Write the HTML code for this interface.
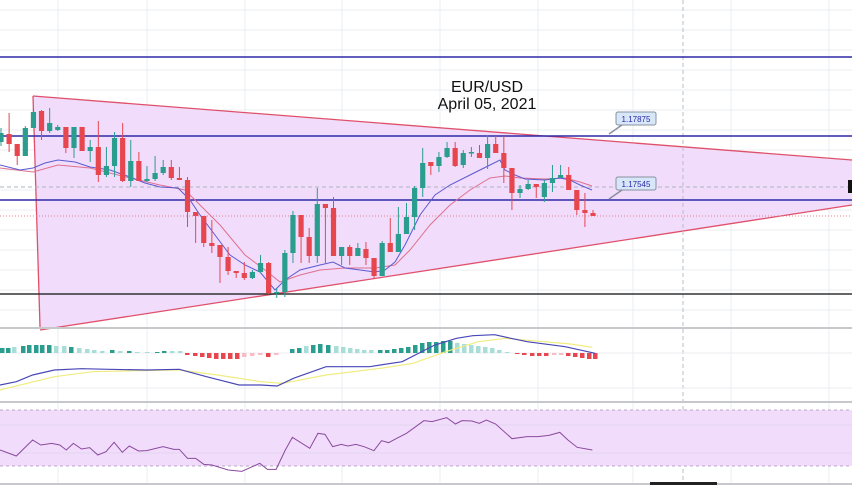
<!DOCTYPE html>
<html><head><meta charset="utf-8">
<style>
html,body{margin:0;padding:0;background:#fff;width:852px;height:485px;overflow:hidden}
svg{display:block}
text{font-family:"Liberation Sans",sans-serif}
</style></head><body>
<svg id="s" width="852" height="485" viewBox="0 0 852 485" xmlns="http://www.w3.org/2000/svg">
<g id="grid" stroke="#e8ecf2" stroke-width="1"></g>
<!-- triangle -->
<polygon points="33,96 852,160 852,205 40,330" fill="#f1dcfb" stroke="none"/>
<line x1="33" y1="96" x2="852" y2="160" stroke="#e0506a" stroke-width="1.3"/>
<line x1="40" y1="330" x2="852" y2="205" stroke="#e0506a" stroke-width="1.3"/>
<line x1="33" y1="96" x2="40" y2="327" stroke="#e0506a" stroke-width="1.3"/>
<line x1="683" y1="0" x2="683" y2="485" stroke="#b8bcc4" stroke-dasharray="4,3"/>
<line x1="0" y1="187" x2="852" y2="187" stroke="#b0b4bc" stroke-dasharray="4,3"/>
<line x1="0" y1="216" x2="852" y2="216" stroke="#e8808a" stroke-dasharray="1,2"/>
<line x1="0" y1="57" x2="852" y2="57" stroke="#2f2aa6" stroke-width="1.6"/>
<line x1="0" y1="136" x2="852" y2="136" stroke="#2f2aa6" stroke-width="1.6"/>
<line x1="0" y1="200" x2="852" y2="200" stroke="#2f2aa6" stroke-width="1.6"/>
<line x1="0" y1="294" x2="852" y2="294" stroke="#333" stroke-width="1.6"/>
<g id="ma"></g>
<g id="candles"></g>
<!-- labels -->
<line x1="609" y1="134" x2="622" y2="125" stroke="#8a90a0" stroke-width="1.5"/>
<rect x="616" y="112" width="40" height="13" rx="2" fill="#d7e6f8" stroke="#8a90a0"/>
<text x="636" y="122" font-size="8" fill="#2f2aa6" text-anchor="middle">1.17875</text>
<line x1="609" y1="199" x2="622" y2="190" stroke="#8a90a0" stroke-width="1.5"/>
<rect x="616" y="177" width="40" height="13" rx="2" fill="#d7e6f8" stroke="#8a90a0"/>
<text x="636" y="187" font-size="8" fill="#2f2aa6" text-anchor="middle">1.17545</text>
<rect x="848" y="180" width="6" height="13" fill="#111"/>
<text x="487" y="92" font-size="16" fill="#111" text-anchor="middle">EUR/USD</text>
<text x="487" y="109" font-size="16" fill="#111" text-anchor="middle">April 05, 2021</text>
<!-- panel separators -->
<rect x="0" y="327" width="852" height="2" fill="#c6c8cc"/>
<rect x="0" y="401" width="852" height="2" fill="#c6c8cc"/>
<rect x="0" y="483" width="852" height="2" fill="#c6c8cc"/>
<rect x="650" y="482" width="67" height="3" fill="#222"/>
<!-- RSI band -->
<rect x="0" y="410" width="852" height="56" fill="#f1dcfb"/>
<line x1="0" y1="410" x2="852" y2="410" stroke="#b8a8c4" stroke-dasharray="3,3"/>
<line x1="0" y1="466" x2="852" y2="466" stroke="#b8a8c4" stroke-dasharray="3,3"/>
<line x1="0" y1="425" x2="852" y2="425" stroke="#e2d6ee"/>
<line x1="0" y1="453" x2="852" y2="453" stroke="#e2d6ee"/>
<line x1="0" y1="353" x2="852" y2="353" stroke="#eceef2"/>
<line x1="0" y1="388" x2="852" y2="388" stroke="#eceef2"/>
<g id="macd"></g>
<g id="rsi"></g>
</svg>
<script>
var NS="http://www.w3.org/2000/svg";
function el(p,t,a){var e=document.createElementNS(NS,t);for(var k in a)e.setAttribute(k,a[k]);document.getElementById(p).appendChild(e);return e;}
// grid
[58,147,245,342,440,538,633,731,829].forEach(function(x){el("grid","line",{x1:x,y1:0,x2:x,y2:485});});
for(var y=10;y<327;y+=20)el("grid","line",{x1:0,y1:y,x2:852,y2:y});
// candles [open,close,high,low] as pixel y; teal if close<open
var C=[[142,133,128,146],[134,144,113,152],[144,156,144,165],[156,128,126,156],[128,112,108,128],[111,131,110,140],[131,123,108,133],[130,127,125,131],[127,148,127,153],[148,127,127,158],[127,151,127,151],[151,147,140,162],[147,175,121,182],[175,166,147,177],[166,138,132,177],[138,181,123,182],[181,161,140,187],[161,181,160,152],[181,179,166,182],[179,173,156,181],[173,167,160,175],[167,178,160,180],[178,180,167,167],[180,212,177,227],[212,216,212,243],[216,243,216,247],[243,246,220,253],[245,257,245,283],[257,271,247,275],[271,273,271,278],[273,278,262,280],[278,272,270,279],[272,263,255,273],[263,293,262,294],[293,292,288,298],[292,253,250,297],[253,215,211,263],[215,237,215,263],[237,256,228,263],[256,204,188,263],[204,208,204,263],[208,256,197,256],[256,247,247,265],[247,256,245,265],[256,248,243,256],[249,258,242,265],[258,276,258,278],[276,243,241,276],[243,252,218,252],[252,234,207,252],[234,217,203,234],[217,188,186,230],[188,163,148,197],[162,166,162,175],[166,157,152,172],[157,148,142,158],[148,166,142,167],[165,153,150,168],[153,152,147,157],[153,158,145,158],[158,144,135,169],[144,153,136,153],[153,168,136,183],[168,193,168,210],[193,189,185,198],[189,184,180,190],[184,187,184,198],[197,183,180,202],[183,178,165,192],[178,175,165,178],[175,190,167,190],[190,210,190,215],[210,213,193,227],[213,216,210,216]];
var mg=document.getElementById("candles");
C.forEach(function(c,i){var x=1+i*8.11;var up=c[1]<c[0];var col=up?"#2a9d8f":"#e8464f";
var hi=Math.min(c[0],c[1],c[2],c[3]),lo=Math.max(c[0],c[1],c[2],c[3]);
el("candles","line",{x1:x,y1:hi,x2:x,y2:lo,stroke:col,"stroke-width":1});
var t=Math.min(c[0],c[1]),h=Math.max(Math.abs(c[0]-c[1]),1.5);
el("candles","rect",{x:x-2.6,y:t,width:5.2,height:h,fill:col});});
function pl(g,pts,col,w){el(g,"polyline",{points:pts.map(function(p){return p.join(",")}).join(" "),fill:"none",stroke:col,"stroke-width":w||1});}
pl("ma",[[0,168],[33,172],[58,165],[90,168],[130,178],[160,185],[185,190],[200,205],[220,225],[245,255],[265,270],[280,282],[300,275],[320,270],[345,268],[375,268],[395,265],[410,250],[430,225],[450,205],[470,190],[490,178],[505,176],[520,178],[545,179],[565,178],[580,182],[592,186]],"#e07090");
pl("ma",[[0,165],[20,170],[33,168],[45,163],[58,160],[75,162],[90,167],[110,170],[130,177],[145,183],[160,187],[178,188],[190,200],[200,215],[215,235],[230,255],[245,265],[260,272],[275,290],[285,280],[300,270],[320,265],[333,262],[345,268],[360,270],[375,272],[385,270],[395,262],[405,245],[420,215],[435,195],[450,185],[470,175],[490,165],[500,160],[505,170],[515,175],[525,179],[545,180],[560,178],[570,180],[580,185],[592,190]],"#5b5bd0");
// MACD histogram
function hbar(x,h,col){var y0=353;el("macd","rect",{x:x,y:h>0?y0-h:y0,width:4.5,height:Math.abs(h),fill:col});}
var H=[[0,5,"#2a9d8f"],[6,5,"#2a9d8f"],[12,6,"#a8ddd8"],[21,7,"#2a9d8f"],[27,8,"#2a9d8f"],[34,8,"#2a9d8f"],[40,8,"#2a9d8f"],[47,8,"#2a9d8f"],[54,7,"#a8ddd8"],[62,7,"#a8ddd8"],[69,6,"#2a9d8f"],[77,5,"#a8ddd8"],[85,4,"#a8ddd8"],[92,3,"#a8ddd8"],[100,2,"#a8ddd8"],[110,3,"#2a9d8f"],[118,2,"#a8ddd8"],[127,2,"#2a9d8f"],[135,1,"#a8ddd8"],[145,1,"#a8ddd8"],[155,1,"#2a9d8f"],[162,2,"#2a9d8f"],[170,2,"#a8ddd8"],[178,2,"#a8ddd8"],[185,-2,"#e8464f"],[193,-3,"#e8464f"],[200,-4,"#e8464f"],[207,-5,"#e8464f"],[214,-6,"#e8464f"],[221,-6,"#e8464f"],[228,-6,"#e8464f"],[235,-6,"#e8464f"],[242,-4,"#f8bcc4"],[250,-3,"#f8bcc4"],[258,-2,"#f8bcc4"],[266,-4,"#e8464f"],[274,-2,"#f8bcc4"],[290,4,"#2a9d8f"],[297,5,"#2a9d8f"],[304,7,"#a8ddd8"],[311,8,"#2a9d8f"],[318,9,"#2a9d8f"],[326,8,"#2a9d8f"],[334,7,"#a8ddd8"],[341,6,"#a8ddd8"],[348,5,"#a8ddd8"],[355,4,"#a8ddd8"],[362,3,"#a8ddd8"],[369,3,"#a8ddd8"],[378,3,"#2a9d8f"],[385,3,"#2a9d8f"],[392,4,"#2a9d8f"],[399,5,"#2a9d8f"],[406,6,"#2a9d8f"],[413,8,"#2a9d8f"],[420,10,"#2a9d8f"],[427,11,"#2a9d8f"],[434,11,"#2a9d8f"],[441,12,"#2a9d8f"],[448,12,"#2a9d8f"],[455,10,"#a8ddd8"],[462,9,"#a8ddd8"],[469,8,"#a8ddd8"],[476,7,"#a8ddd8"],[483,6,"#a8ddd8"],[490,5,"#a8ddd8"],[497,3,"#a8ddd8"],[505,1,"#a8ddd8"],[515,-1,"#e8464f"],[522,-2,"#e8464f"],[530,-3,"#e8464f"],[537,-3,"#e8464f"],[544,-3,"#e8464f"],[552,-2,"#f8bcc4"],[559,-2,"#f8bcc4"],[566,-3,"#e8464f"],[573,-4,"#e8464f"],[580,-5,"#e8464f"],[587,-6,"#e8464f"],[593,-6,"#e8464f"]];
H.forEach(function(b){hbar(b[0],b[1],b[2]);});
function cv(a){return a.map(function(p){return [p[0]/1.84,320+p[1]/3];});}
pl("macd",cv([[0,210],[50,190],[100,170],[170,155],[250,152],[330,150],[400,165],[480,185],[520,190],[600,165],[700,145],[760,130],[820,95],[880,65],[930,55],[1000,65],[1050,72],[1090,82]]),"#f0ec80",1.2);
pl("macd",cv([[0,195],[30,185],[60,165],[100,150],[150,146],[200,148],[270,150],[330,148],[380,170],[440,195],[480,195],[510,198],[540,175],[600,140],[680,140],[740,125],[800,75],[840,55],[870,47],[910,44],[940,55],[970,65],[1040,80],[1095,100]]),"#4a48b8",1.2);
pl("rsi",cv([[0,390],[30,408],[60,360],[75,375],[95,370],[110,375],[122,390],[135,370],[150,387],[165,383],[180,405],[195,395],[210,367],[225,397],[238,378],[255,393],[270,392],[300,380],[320,388],[330,388],[345,415],[360,415],[375,433],[390,435],[420,450],[445,454],[460,443],[478,430],[492,448],[508,448],[525,390],[538,352],[570,385],[585,340],[598,343],[612,380],[628,373],[640,378],[655,373],[670,380],[688,392],[702,362],[715,368],[730,355],[748,340],[780,302],[795,305],[822,293],[838,312],[850,302],[868,303],[882,310],[895,300],[912,312],[942,356],[970,350],[990,350],[1010,346],[1030,337],[1045,360],[1062,382],[1090,390]]),"#8a4a9e",1);
</script>
</body></html>
